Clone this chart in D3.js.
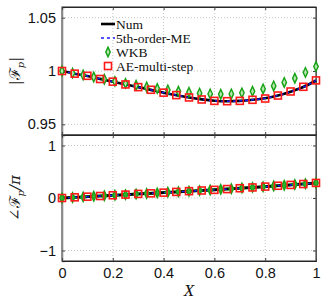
<!DOCTYPE html>
<html>
<head>
<meta charset="utf-8">
<script src="https://cdn.jsdelivr.net/npm/d3@7"></script>
<style>
  body { margin: 0; background: #fff; }
  svg text { font-family: "Liberation Sans", Arial, sans-serif; }
</style>
</head>
<body>
<script>
// x grids
const xFine = d3.range(21).map(i => i / 20)
const xWkb = d3.range(25).map(i => i / 24)

// |Fp|
const numMag = [1.0, 0.9975, 0.9953, 0.9926, 0.99, 0.9874, 0.9849, 0.9823, 0.9797, 0.9774, 0.9752,
                0.9734, 0.9721, 0.9716, 0.972, 0.973, 0.9745, 0.977, 0.9806, 0.985, 0.9911]
const meMag = numMag.slice()
const aeMag = [1.0, 0.9975, 0.9955, 0.9925, 0.99, 0.9874, 0.9849, 0.9824, 0.9797, 0.9774, 0.9752,
               0.9733, 0.972, 0.9717, 0.972, 0.973, 0.9742, 0.977, 0.9808, 0.9852, 0.9912]
const wkbMag = [1.0, 0.998, 0.9962, 0.9943, 0.9923, 0.9903, 0.9884, 0.9866, 0.985, 0.9836, 0.9822,
                0.981, 0.98, 0.9792, 0.9785, 0.9782, 0.9785, 0.9795, 0.981, 0.9832, 0.986, 0.9893,
                0.9932, 0.9987, 1.0042]

// angle(Fp)/pi
const numPh = [0, 0.013, 0.025, 0.038, 0.051, 0.064, 0.077, 0.089, 0.102, 0.115, 0.129,
               0.142, 0.155, 0.17, 0.185, 0.2, 0.216, 0.232, 0.249, 0.266, 0.285]
const mePh = numPh.slice()
const aePh = [0, 0.013, 0.025, 0.038, 0.052, 0.065, 0.078, 0.089, 0.102, 0.116, 0.13,
              0.143, 0.155, 0.17, 0.186, 0.201, 0.217, 0.233, 0.249, 0.266, 0.287]
const wkbPh = [0, 0.011, 0.021, 0.032, 0.043, 0.053, 0.064, 0.075, 0.086, 0.097, 0.108,
               0.119, 0.13, 0.141, 0.153, 0.165, 0.177, 0.189, 0.202, 0.215, 0.229, 0.243,
               0.257, 0.271, 0.287]

const xTicks = [0, 0.2, 0.4, 0.6, 0.8, 1]
const magTicks = [0.95, 1, 1.05]
const phTicks = [-1, 0, 1]
const legendNames = ['Num', '5th-order-ME', 'WKB', 'AE-multi-step']

const W = 327, H = 301
const left = 62, right = 316
const svg = d3.select('body').append('svg').attr('width', W).attr('height', H)

const x = d3.scaleLinear().domain([0, 1]).range([left, right])
const yMag = d3.scaleLinear().domain([0.94, 1.06]).range([135, 7])
const yPh = d3.scaleLinear().domain([-1.2, 1.2]).range([261, 135])

function panel(y, yTicks, fmt, opts) {
    let g = svg.append('g')
    let [yb, yt] = y.range()
    // grid
    g.selectAll('.vg').data(xTicks.slice(1, -1)).enter().append('line')
        .attr('x1', d => x(d)).attr('x2', d => x(d)).attr('y1', yt).attr('y2', yb)
        .attr('stroke', '#b5b5b5').attr('stroke-width', 0.8).attr('stroke-dasharray', '1,2')
    g.selectAll('.hg').data(yTicks).enter().append('line')
        .attr('x1', left).attr('x2', right).attr('y1', d => y(d)).attr('y2', d => y(d))
        .attr('stroke', '#b5b5b5').attr('stroke-width', 0.8).attr('stroke-dasharray', '1,2')
    // frame
    g.append('rect').attr('x', left).attr('y', yt).attr('width', right - left).attr('height', yb - yt)
        .attr('fill', 'none').attr('stroke', '#262626').attr('stroke-width', 1)
    // axes with inward ticks
    let ax = d3.axisLeft(y).tickValues(yTicks).tickSize(-3).tickPadding(6).tickFormat(fmt)
    let ga = g.append('g').attr('transform', `translate(${left},0)`).call(ax)
    ga.select('.domain').attr('stroke', '#8a8a8a').attr('stroke-width', 1.6)
    ga.selectAll('.tick line').attr('stroke', '#444')
    ga.selectAll('text').attr('font-size', 14.5).attr('fill', '#111')
    let ar = d3.axisRight(y).tickValues(yTicks).tickSize(-3).tickFormat('')
    let gr = g.append('g').attr('transform', `translate(${right},0)`).call(ar)
    gr.select('.domain').attr('stroke', '#555')
    gr.selectAll('.tick line').attr('stroke', '#444')
    let bx = d3.axisBottom(x).tickValues(xTicks).tickSize(-3).tickPadding(7)
        .tickFormat(opts.xlabels ? (d => d3.format('')(d)) : '')
    let gb = g.append('g').attr('transform', `translate(0,${yb})`).call(bx)
    gb.select('.domain').attr('stroke', '#262626')
    gb.selectAll('.tick line').attr('stroke', '#444')
    gb.selectAll('text').attr('font-size', 14.5).attr('fill', '#111')
    let tx = d3.axisTop(x).tickValues(xTicks).tickSize(-3).tickFormat('')
    let gt = g.append('g').attr('transform', `translate(0,${yt})`).call(tx)
    gt.select('.domain').attr('stroke', '#262626')
    gt.selectAll('.tick line').attr('stroke', '#444')
    return g
}

function series(g, y, num, me, ae, wkb, wkbLine) {
    let line = (xs, ys) => d3.line().x((d, i) => x(xs[i])).y(d => y(d)).curve(d3.curveCatmullRom)(ys)
    if (wkbLine) {
        g.append('path').attr('d', line(xWkb, wkb)).attr('fill', 'none')
            .attr('stroke', '#1a9e1a').attr('stroke-width', 3)
    }
    g.append('path').attr('d', line(xFine, num)).attr('fill', 'none')
        .attr('stroke', '#000').attr('stroke-width', 2.6)
    g.append('path').attr('d', line(xFine, me)).attr('fill', 'none')
        .attr('stroke', '#1a1aff').attr('stroke-width', 1.4).attr('stroke-dasharray', '3,3')
    g.selectAll('.wkb').data(wkb).enter().append('path')
        .attr('d', d3.symbol(d3.symbolDiamond, 24))
        .attr('transform', (d, i) => `translate(${x(xWkb[i])},${y(d)}) scale(0.85,1.05)`)
        .attr('fill', wkbLine ? '#2fb42f' : '#b8e6b0').attr('stroke', '#16a316').attr('stroke-width', 1.6)
    g.selectAll('.ae').data(ae).enter().append('rect')
        .attr('x', (d, i) => x(xFine[i]) - 3.5).attr('y', d => y(d) - 3.5)
        .attr('width', 7).attr('height', 7)
        .attr('fill', 'none').attr('stroke', '#ff1a1a').attr('stroke-width', 1.6)
}

let magPanel = panel(yMag, magTicks, d => d3.format('')(d), {xlabels: false})
series(magPanel, yMag, numMag, meMag, aeMag, wkbMag, false)
let phPanel = panel(yPh, phTicks, d => d < 0 ? '\u2212' + Math.abs(d) : d, {xlabels: true})
series(phPanel, yPh, numPh, mePh, aePh, wkbPh, true)

// legend
const lx = 101, ly = [24, 38, 52, 66]
let lg = svg.append('g').selectAll('g').data(legendNames).enter().append('g')
    .attr('transform', (d, i) => `translate(${lx},${ly[i]})`)
lg.filter((d, i) => i === 0).append('line').attr('x1', 0).attr('x2', 14).attr('stroke', '#000').attr('stroke-width', 2.6)
lg.filter((d, i) => i === 1).append('line').attr('x1', 0).attr('x2', 14).attr('stroke', '#1a1aff')
    .attr('stroke-width', 1.4).attr('stroke-dasharray', '3,3')
lg.filter((d, i) => i === 2).append('path').attr('d', d3.symbol(d3.symbolDiamond, 24))
    .attr('transform', 'translate(7,0) scale(0.85,1.05)')
    .attr('fill', '#b8e6b0').attr('stroke', '#16a316').attr('stroke-width', 1.6)
lg.filter((d, i) => i === 3).append('rect').attr('x', 3.5).attr('y', -3.5).attr('width', 7).attr('height', 7)
    .attr('fill', 'none').attr('stroke', '#ff1a1a').attr('stroke-width', 1.6)
lg.append('text').attr('x', 15).attr('y', 4.5).text(d => d)
    .style('font-family', '"Liberation Serif", "DejaVu Serif", serif').attr('font-size', 13.5)
    .attr('fill', '#111')

// axis labels
function yLabel(cx, cy, pre, post) {
    let t = svg.append('text').attr('transform', `translate(${cx},${cy}) rotate(-90)`)
        .attr('text-anchor', 'middle').attr('fill', '#222')
        .style('font-family', '"DejaVu Serif", serif').attr('font-size', 15)
    t.append('tspan').text(pre + '\u2131')
    t.append('tspan').text('p').attr('font-style', 'italic').attr('font-size', 10).attr('dy', 4)
    t.append('tspan').text(post).attr('dy', -4).attr('font-style', 'italic')
}
yLabel(20, 71, '|', '|')
yLabel(20, 198, '\u2220', '/\u03c0')

svg.append('text').attr('x', 189).attr('y', 296).attr('text-anchor', 'middle')
    .style('font-family', '"Liberation Serif", serif').attr('font-style', 'italic')
    .attr('font-size', 17).attr('fill', '#111').text('X')
</script>
</body>
</html>
